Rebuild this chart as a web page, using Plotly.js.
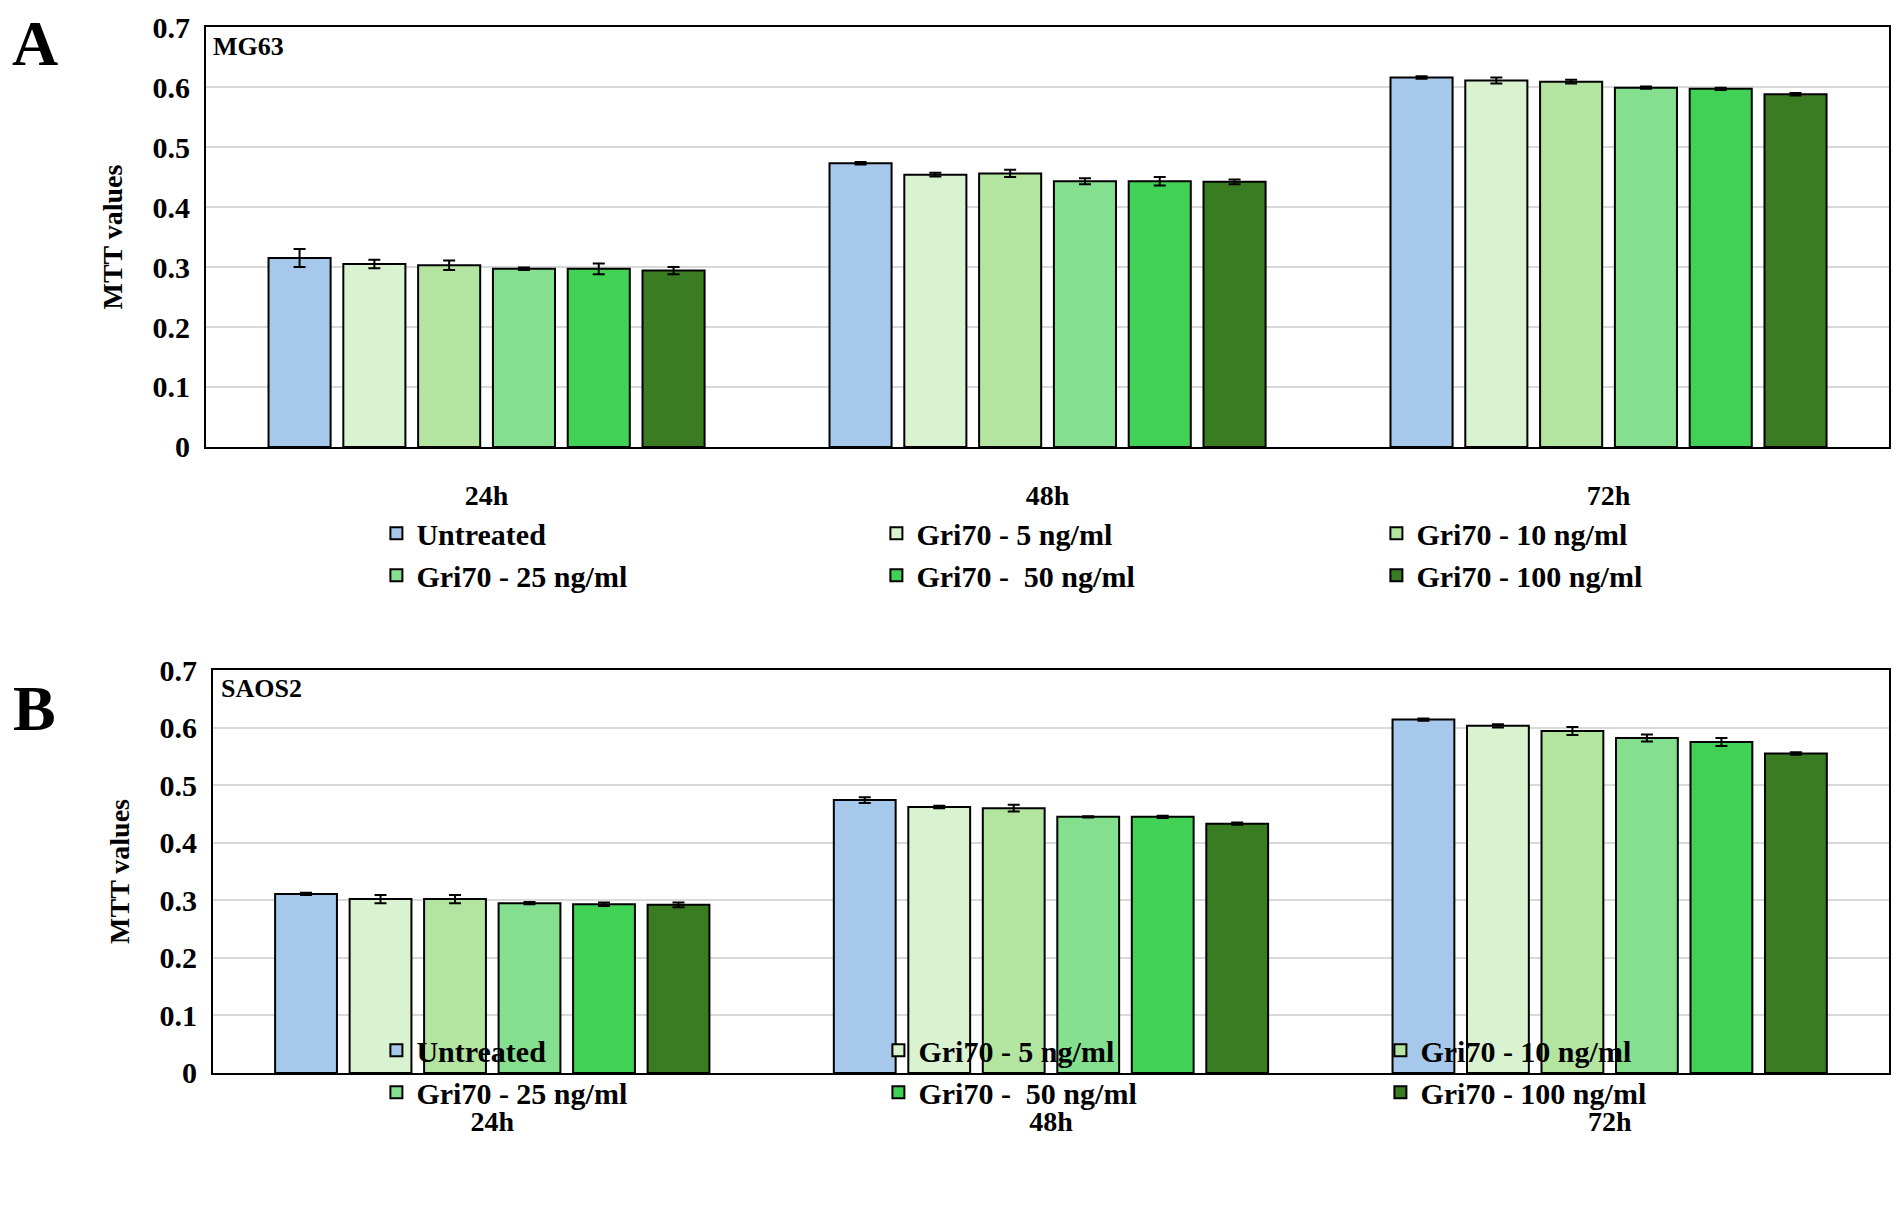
<!DOCTYPE html>
<html><head><meta charset="utf-8">
<script src="https://cdn.plot.ly/plotly-3.0.1.min.js"></script>
<style>body{margin:0;background:#fff}</style></head>
<body><div id="c" style="width:1901px;height:1231px"></div>
<script>
const categories = ["24h","48h","72h"];
const seriesNames = ["Untreated","Gri70 - 5 ng/ml","Gri70 - 10 ng/ml","Gri70 - 25 ng/ml","Gri70 -  50 ng/ml","Gri70 - 100 ng/ml"];
const colors = ["#a6c8ea","#d9f2d0","#b3e5a1","#84e08f","#41d155","#3a7c22"];
const mg63Values = [
 [0.315,0.473,0.616],[0.305,0.454,0.611],[0.303,0.456,0.609],
 [0.297,0.443,0.599],[0.297,0.443,0.597],[0.294,0.442,0.588]];
const mg63Err = [
 [0.015,0.002,0.002],[0.007,0.003,0.005],[0.008,0.006,0.003],
 [0.002,0.005,0.002],[0.009,0.007,0.002],[0.006,0.004,0.002]];
const saos2Values = [
 [0.311,0.474,0.614],[0.302,0.462,0.603],[0.302,0.460,0.594],
 [0.295,0.445,0.582],[0.293,0.445,0.575],[0.292,0.433,0.555]];
const saos2Err = [
 [0.002,0.005,0.002],[0.007,0.002,0.003],[0.007,0.006,0.007],
 [0.002,0.001,0.006],[0.003,0.002,0.007],[0.004,0.002,0.002]];
const yTicks = [0,0.1,0.2,0.3,0.4,0.5,0.6,0.7];

const F = "Liberation Serif, Times New Roman, serif";
const traces = [];
function add(vals, errs, xa, ya, lg){
  seriesNames.forEach((n,i)=>traces.push({
    type:"bar", name:n, x:categories, y:vals[i], xaxis:xa, yaxis:ya, legend:lg,
    marker:{color:colors[i], line:{color:"#000", width:2}},
    error_y:{type:"data", array:errs[i], color:"#000", thickness:2, width:6}
  }));
}
add(mg63Values, mg63Err, "x", "y", "legend");
add(saos2Values, saos2Err, "x2", "y2", "legend2");

const tf = {family:F, size:30, color:"#000", weight:"bold"};
function yax(dom){return {domain:dom, range:[0,0.7], tickvals:yTicks, ticktext:yTicks.map(String),
  showgrid:true, gridcolor:"#d9d9d9", gridwidth:2, showline:true, linecolor:"#000", linewidth:2, mirror:true,
  ticks:"", tickfont:tf, zeroline:false, ticklabelstandoff:8,
  title:{text:"MTT values", font:{family:F,size:28,color:"#000",weight:"bold"}, standoff:22}};}
function xax(dom){return {domain:dom, showline:true, linecolor:"#000", linewidth:2, mirror:true,
  ticks:"", tickfont:{family:F,size:28,color:"#000",weight:"bold"}, ticklabelstandoff:22};}
const legF = {family:F, size:30, color:"#000", weight:"bold"};
const layout = {
  width:1901, height:1231, margin:{l:0,r:0,t:0,b:0}, paper_bgcolor:"#fff", plot_bgcolor:"#fff",
  barmode:"group", bargap:0.2, bargroupgap:0.17,
  xaxis:xax([0.1084,0.9937]), yaxis:yax([0.6369,0.978]),
  xaxis2:Object.assign(xax([0.112,0.9937]),{anchor:"y2"}), yaxis2:Object.assign(yax([0.1284,0.4557]),{anchor:"x2"}),
  legend:{orientation:"h", x:0.198, y:0.588, xanchor:"left", yanchor:"top", entrywidth:455, entrywidthmode:"pixels",
    font:legF, itemwidth:30, bgcolor:"rgba(0,0,0,0)"},
  legend2:{orientation:"h", x:0.198, y:0.168, xanchor:"left", yanchor:"top", entrywidth:457, entrywidthmode:"pixels",
    font:legF, itemwidth:30, bgcolor:"rgba(0,0,0,0)"},
  annotations:[
    {text:"A", x:0.005, y:0.995, xref:"paper", yref:"paper", xanchor:"left", yanchor:"top", showarrow:false, font:{family:F,size:64,color:"#000",weight:"bold"}},
    {text:"B", x:0.006, y:0.455, xref:"paper", yref:"paper", xanchor:"left", yanchor:"top", showarrow:false, font:{family:F,size:64,color:"#000",weight:"bold"}},
    {text:"MG63", x:0.111, y:0.976, xref:"paper", yref:"paper", xanchor:"left", yanchor:"top", showarrow:false, font:{family:F,size:26,color:"#000",weight:"bold"}},
    {text:"SAOS2", x:0.115, y:0.454, xref:"paper", yref:"paper", xanchor:"left", yanchor:"top", showarrow:false, font:{family:F,size:26,color:"#000",weight:"bold"}}
  ]
};
Plotly.newPlot("c", traces, layout, {displayModeBar:false, staticPlot:true});
</script></body></html>
